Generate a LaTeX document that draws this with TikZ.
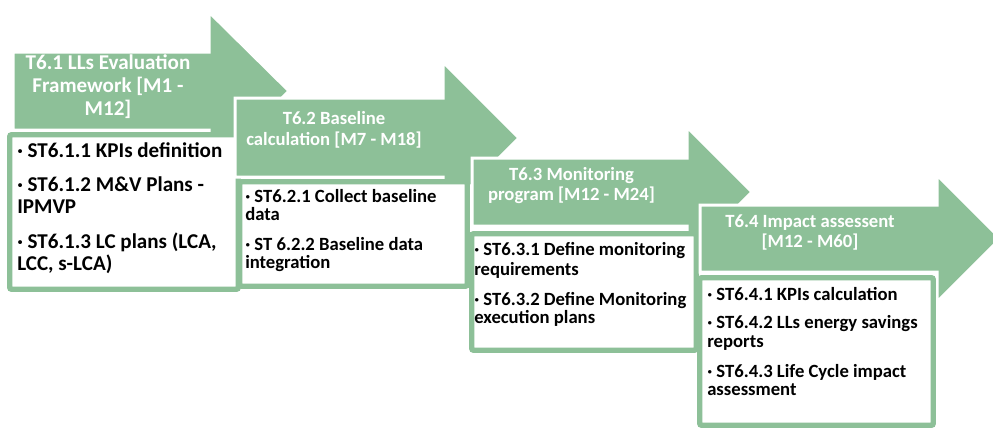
\documentclass[tikz,border=0pt]{standalone}
\usepackage{fontspec}
\setmainfont{Carlito}
\definecolor{stagegreen}{RGB}{141,192,152}
\begin{document}
\begin{tikzpicture}[x=0.75pt,y=-0.75pt,
  header/.style={fill=stagegreen, draw=white, line width=2.25pt, line join=miter},
  subbox/.style={fill=white, draw=stagegreen, line width=4.1pt, rounded corners=1.5pt},
  bigh/.style={anchor=base, inner sep=0pt, text=white, font=\bfseries\fontsize{15.8}{16}\selectfont},
  smallh/.style={anchor=base, inner sep=0pt, text=white, font=\bfseries\fontsize{14}{14}\selectfont},
  bigt/.style={anchor=base west, inner sep=0pt, font=\bfseries\fontsize{15.8}{16}\selectfont},
  smallt/.style={anchor=base west, inner sep=0pt, font=\bfseries\fontsize{14}{14}\selectfont}]
\useasboundingbox (0,0) rectangle (993,429);

% ---- T6.1 ----
\path[header] (13,52) -- (209,52) -- (209,12) -- (289,91) -- (209,170) -- (209,130) -- (13,130) -- cycle;
\path[subbox] (9.75,134.75) rectangle (238.25,289.25);
\node[bigh] (h1a) at (108,69) {T6.1 LLs Evaluation};
\node[bigh] (h1b) at (108,92) {Framework [M1 -};
\node[bigh] (h1c) at (108,115) {M12]};
\node[bigt] (t1a) at (17,157) {· ST6.1.1 KPIs definition};
\node[bigt] (t1b) at (17,191) {· ST6.1.2 M\&V Plans -};
\node[bigt] (t1c) at (17,213) {IPMVP};
\node[bigt] (t1d) at (17,248) {· ST6.1.3 LC plans (LCA,};
\node[bigt] (t1e) at (17,270) {LCC, s-LCA)};

% ---- T6.2 ----
\path[header] (235,98) -- (443,98) -- (443,62) -- (519,138) -- (443,214) -- (443,177) -- (235,177) -- cycle;
\path[subbox] (239.75,181.75) rectangle (467.25,286.25);
\node[smallh] (h2a) at (334,124) {T6.2 Baseline};
\node[smallh] (h2b) at (334,145) {calculation [M7 - M18]};
\node[smallt] (t2a) at (245,202) {· ST6.2.1 Collect baseline};
\node[smallt] (t2b) at (245,220) {data};
\node[smallt] (t2c) at (245,250) {· ST 6.2.2 Baseline data};
\node[smallt] (t2d) at (245,268) {integration};

% ---- T6.3 ----
\path[header] (472,158) -- (687,158) -- (687,127) -- (752,192) -- (687,257) -- (687,226) -- (472,226) -- cycle;
\path[subbox] (471.75,233.75) rectangle (696.25,350.25);
\node[smallh] (h3a) at (571.5,180) {T6.3 Monitoring};
\node[smallh] (h3b) at (571.5,200) {program [M12 - M24]};
\node[smallt] (t3a) at (474,255) {· ST6.3.1 Define monitoring};
\node[smallt] (t3b) at (474,275) {requirements};
\node[smallt] (t3c) at (474,305) {· ST6.3.2 Define Monitoring};
\node[smallt] (t3d) at (474,323) {execution plans};

% ---- T6.4 ----
\path[header] (700,205) -- (937,205) -- (937,175) -- (1000.5,238.5) -- (937,302) -- (937,272) -- (700,272) -- cycle;
\path[subbox] (699.75,277.75) rectangle (933.25,425.25);
\node[smallh] (h4a) at (810,227) {T6.4 Impact assessent};
\node[smallh] (h4b) at (810,247) {[M12 - M60]};
\node[smallt] (t4a) at (707,300) {· ST6.4.1 KPIs calculation};
\node[smallt] (t4b) at (707,328) {· ST6.4.2 LLs energy savings};
\node[smallt] (t4c) at (707,347) {reports};
\node[smallt] (t4d) at (707,377) {· ST6.4.3 Life Cycle impact};
\node[smallt] (t4e) at (707,395) {assessment};
\end{tikzpicture}
\end{document}
